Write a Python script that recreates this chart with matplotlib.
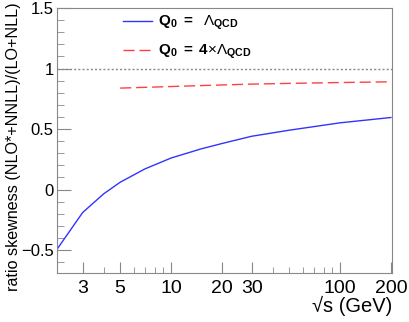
import matplotlib
matplotlib.use("Agg")
import matplotlib.pyplot as plt
from matplotlib.ticker import FixedLocator, NullFormatter, MultipleLocator

plt.rcParams['font.family'] = ['Liberation Sans', 'DejaVu Sans']
plt.rcParams['mathtext.fontset'] = 'custom'
plt.rcParams['mathtext.rm'] = 'Liberation Sans'
plt.rcParams['mathtext.it'] = 'Liberation Sans'
plt.rcParams['mathtext.bf'] = 'Liberation Sans:bold'

# data
sqrt_s_blue = [2.1, 3, 4, 5, 7, 10, 15, 20, 30, 50, 100, 200]
ratio_blue = [-0.5, -0.19, -0.035, 0.06, 0.17, 0.26, 0.335, 0.38, 0.44, 0.49, 0.551, 0.595]
sqrt_s_red = [5, 10, 20, 30, 50, 100, 200]
ratio_red = [0.838, 0.851, 0.864, 0.871, 0.877, 0.884, 0.89]
xtick_vals = [3, 5, 10, 20, 30, 100, 200]
xtick_labels = ["3", "5", "10", "20", "30", "100", "200"]
ytick_vals = [-0.5, 0, 0.5, 1, 1.5]
ytick_labels = ['\u22120.5', '0', '0.5', '1', '1.5']

W, H = 409, 322
fig = plt.figure(figsize=(W / 100, H / 100), dpi=100)
ax = fig.add_axes([56.5 / W, 1 - 273 / H, (392 - 56.5) / W, (273 - 8) / H])

ax.axhline(1.0, color='#888888', ls=(0, (1.5, 1.5)), lw=1.0)
ax.plot(sqrt_s_blue, ratio_blue, color='#3333ff', lw=1.0,
        label=r'$\mathbf{Q_0}$ $\mathbf{=}$  $\Lambda_{\mathbf{QCD}}$')
ax.plot(sqrt_s_red, ratio_red, color='#ff4040', lw=1.0, dashes=(8, 3.5),
        label=r'$\mathbf{Q_0}$ $\mathbf{=}$ $\mathbf{4}$$\times\Lambda_{\mathbf{QCD}}$')

ax.set_xscale('log')
ax.set_xlim(2.1, 203)
ax.set_ylim(-0.69, 1.5)

ax.xaxis.set_major_locator(FixedLocator(xtick_vals))
ax.set_xticklabels(xtick_labels)
minor = [v * d for d in (1, 10, 100) for v in range(2, 10)]
minor = [m for m in minor if m not in xtick_vals and 2.1 <= m <= 203]
ax.xaxis.set_minor_locator(FixedLocator(minor))
ax.xaxis.set_minor_formatter(NullFormatter())
ax.yaxis.set_minor_locator(MultipleLocator(0.1))
ax.set_yticks(ytick_vals)
ax.set_yticklabels(ytick_labels)

ax.tick_params(axis='both', which='both', direction='in', colors='#888888', labelcolor='black')
ax.tick_params(axis='y', which='major', length=10, pad=2, labelsize=12)
ax.tick_params(axis='y', which='minor', length=5)
ax.tick_params(axis='x', which='major', length=8, pad=5, labelsize=14)
ax.tick_params(axis='x', which='minor', length=4)
for s in ax.spines.values():
    s.set_color('#888888')

ax.set_xlabel('\u221As (GeV)', fontsize=14.5, loc='right', labelpad=-1)
fig.text(13.5 / W, 1 - 2 / H, 'ratio skewness (NLO*+NNLL)/(LO+NLL)', rotation=90,
         ha='center', va='top', fontsize=11.6)

leg = ax.legend(loc='upper left', bbox_to_anchor=(123 / W, 1 - 14 / H), bbox_transform=fig.transFigure,
                frameon=False, fontsize=11, handlelength=1.9, handletextpad=0.4,
                labelspacing=0.7, borderpad=0, borderaxespad=0)

fig.savefig('out.png', dpi=100)
